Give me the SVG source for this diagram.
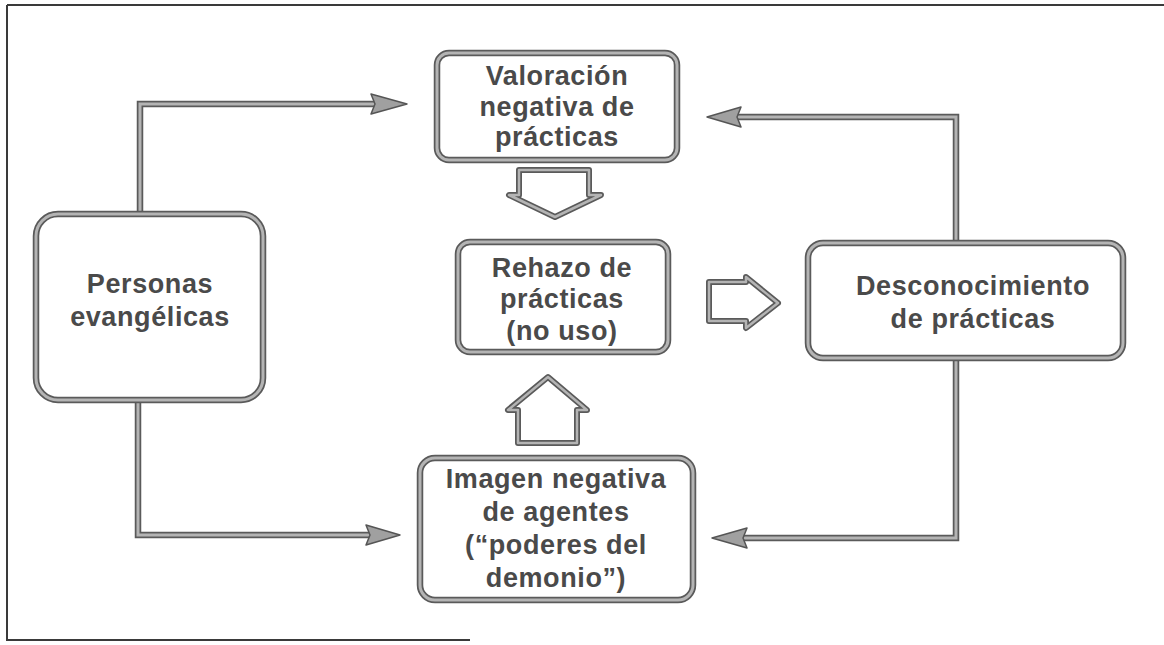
<svg xmlns="http://www.w3.org/2000/svg" width="1164" height="645" viewBox="0 0 1164 645">
<style>
.frame{fill:none;stroke:#3a3a3a;stroke-width:2}
.edge{fill:none;stroke:#5a5a5a;stroke-width:6.5}
.core{fill:none;stroke:#b4b4b4;stroke-width:3}
.bg{fill:#ffffff}
.head{fill:#a0a0a0;stroke:#555555;stroke-width:1.5;stroke-linejoin:round}
.block{fill:#ffffff;stroke:#5a5a5a;stroke-width:6;stroke-linejoin:round}
.blockc{fill:none;stroke:#b4b4b4;stroke-width:2.5;stroke-linejoin:round}
text{font-family:"Liberation Sans",Arial,sans-serif;font-weight:bold;font-size:27px;fill:#4a4a4a;text-anchor:middle;letter-spacing:0.6px}
</style>
<rect width="1164" height="645" fill="#ffffff"/>
<g id="frame">
<line class="frame" x1="7" y1="5" x2="7" y2="641"/>
<line class="frame" x1="7" y1="5" x2="1164" y2="5"/>
<line class="frame" x1="7" y1="640" x2="470" y2="640" stroke="#6a6a6a"/>
</g>
<g id="connectors">
<path class="edge" d="M140,213 V104 H378"/>
<path class="core" d="M140,213 V104 H378"/>
<polygon class="head" points="407,104 371,94 375,104 371,114"/>
<path class="edge" d="M138,400 V535 H372"/>
<path class="core" d="M138,400 V535 H372"/>
<polygon class="head" points="400,535 366,525 370,535 366,545"/>
<path class="edge" d="M956,242 V117 H735"/>
<path class="core" d="M956,242 V117 H735"/>
<polygon class="head" points="707,117 741,107 737,117 741,127"/>
<path class="edge" d="M956,358 V538 H742"/>
<path class="core" d="M956,358 V538 H742"/>
<polygon class="head" points="712,538 747,528 743,538 747,548"/>
<g id="arrow-down">
<polygon class="block" points="519,170 589,170 589,195 601,195 555,217 509,195 519,195"/>
<polygon class="blockc" points="519,170 589,170 589,195 601,195 555,217 509,195 519,195"/>
</g>
<g id="arrow-up">
<polygon class="block" points="518,443 577,443 577,410 587,410 548,377 508,410 518,410"/>
<polygon class="blockc" points="518,443 577,443 577,410 587,410 548,377 508,410 518,410"/>
</g>
<g id="arrow-right">
<polygon class="block" points="709,282 746,282 746,277 778,303 746,328 746,321 709,321"/>
<polygon class="blockc" points="709,282 746,282 746,277 778,303 746,328 746,321 709,321"/>
</g>
</g>
<g id="personas">
<rect class="bg" x="36" y="214" width="227" height="186" rx="22"/>
<rect class="edge" x="36" y="214" width="227" height="186" rx="22"/>
<rect class="core" x="36" y="214" width="227" height="186" rx="22"/>
<text x="150" y="293">Personas</text>
<text x="150" y="326">evangélicas</text>
</g>
<g id="valoracion">
<rect class="bg" x="437" y="53" width="240" height="107" rx="12"/>
<rect class="edge" x="437" y="53" width="240" height="107" rx="12"/>
<rect class="core" x="437" y="53" width="240" height="107" rx="12"/>
<text x="557" y="85">Valoración</text>
<text x="557" y="116">negativa de</text>
<text x="557" y="146">prácticas</text>
</g>
<g id="rehazo">
<rect class="bg" x="458" y="242" width="210" height="110" rx="12"/>
<rect class="edge" x="458" y="242" width="210" height="110" rx="12"/>
<rect class="core" x="458" y="242" width="210" height="110" rx="12"/>
<text x="562" y="277">Rehazo de</text>
<text x="562" y="308">prácticas</text>
<text x="562" y="340">(no uso)</text>
</g>
<g id="desconocimiento">
<rect class="bg" x="808" y="243" width="315" height="115" rx="15"/>
<rect class="edge" x="808" y="243" width="315" height="115" rx="15"/>
<rect class="core" x="808" y="243" width="315" height="115" rx="15"/>
<text x="973" y="295">Desconocimiento</text>
<text x="973" y="328">de prácticas</text>
</g>
<g id="imagen">
<rect class="bg" x="420" y="458" width="273" height="142" rx="15"/>
<rect class="edge" x="420" y="458" width="273" height="142" rx="15"/>
<rect class="core" x="420" y="458" width="273" height="142" rx="15"/>
<text x="556" y="488">Imagen negativa</text>
<text x="556" y="521">de agentes</text>
<text x="556" y="554">(“poderes del</text>
<text x="556" y="587">demonio”)</text>
</g>
</svg>
